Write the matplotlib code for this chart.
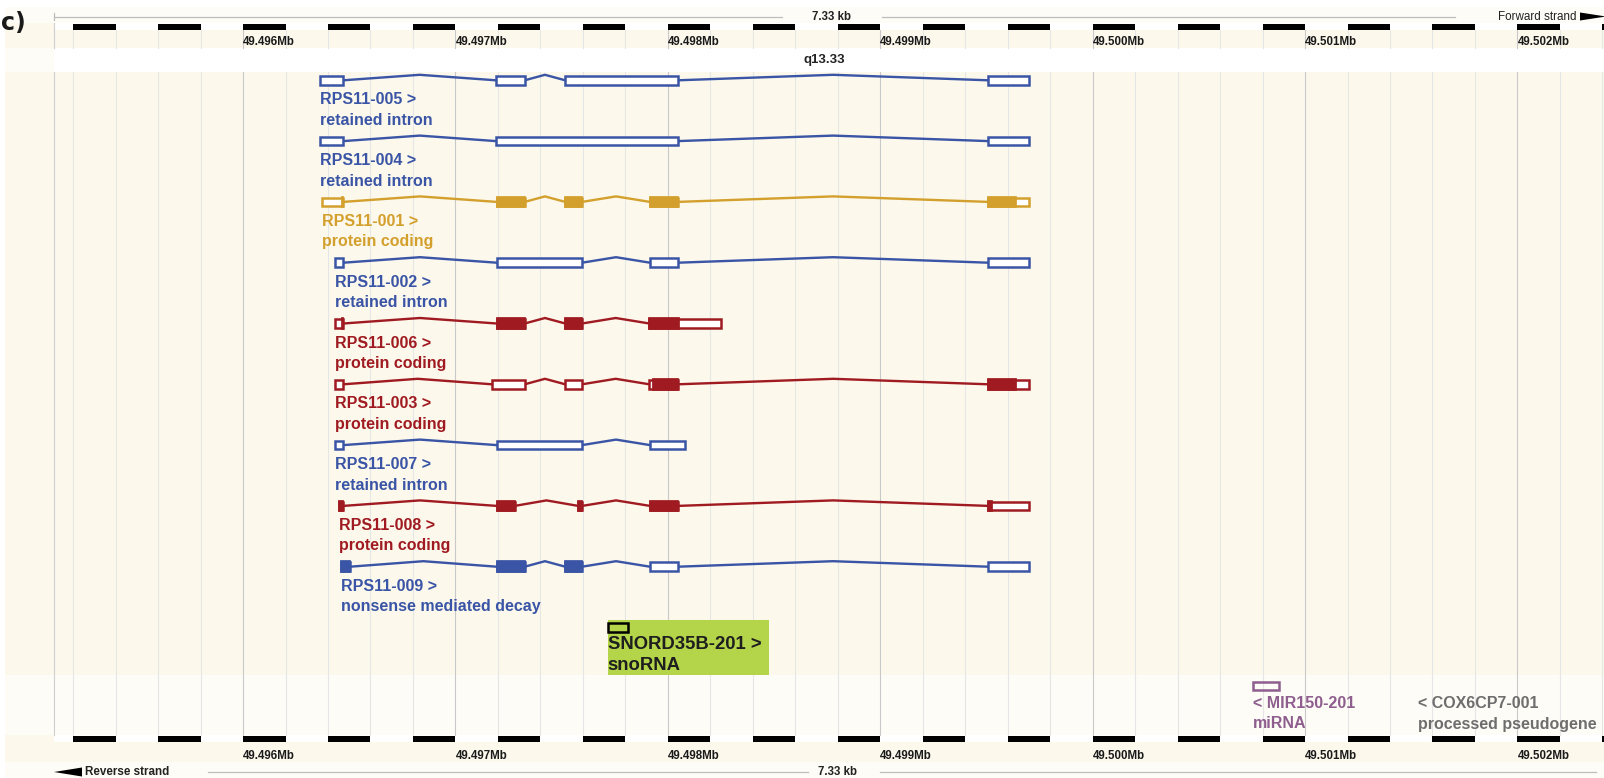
import matplotlib
matplotlib.use("Agg")
import matplotlib.pyplot as plt
from matplotlib.patches import Rectangle, Polygon
import numpy as np

# ---- data (genomic positions in bp, chr11) ----
view_start = 49495110
mb_ticks = [49496000, 49497000, 49498000, 49499000, 49500000, 49501000, 49502000]
mb_labels = ["49.496Mb", "49.497Mb", "49.498Mb", "49.499Mb", "49.500Mb", "49.501Mb", "49.502Mb"]
band_name = "q13.33"
span_text = "7.33 kb"

names = ["RPS11-005", "RPS11-004", "RPS11-001", "RPS11-002", "RPS11-006",
         "RPS11-003", "RPS11-007", "RPS11-008", "RPS11-009"]
biotypes = ["retained intron", "retained intron", "protein coding", "retained intron",
            "protein coding", "protein coding", "retained intron", "protein coding",
            "nonsense mediated decay"]
kinds = ["ri", "ri", "merged", "ri", "pc", "pc", "ri", "pc", "ri"]
exons = [
    [(49496363, 49496472), (49497191, 49497326), (49497517, 49498047), (49499509, 49499699)],
    [(49496363, 49496472), (49497191, 49498047), (49499509, 49499699)],
    [(49496372, 49496472), (49497194, 49497326), (49497517, 49497596), (49497916, 49498047), (49499509, 49499699)],
    [(49496432, 49496472), (49497194, 49497596), (49497916, 49498047), (49499509, 49499699)],
    [(49496432, 49496472), (49497194, 49497326), (49497517, 49497596), (49497913, 49498249)],
    [(49496432, 49496472), (49497172, 49497326), (49497517, 49497596), (49497913, 49498047), (49499509, 49499699)],
    [(49496432, 49496472), (49497194, 49497596), (49497916, 49498081)],
    [(49496453, 49496472), (49497194, 49497279), (49497578, 49497596), (49497916, 49498047), (49499509, 49499699)],
    [(49496463, 49496504), (49497194, 49497326), (49497517, 49497596), (49497916, 49498047), (49499509, 49499699)],
]
cds = [
    [],
    [],
    [(49496466, 49496472), (49497194, 49497326), (49497517, 49497596), (49497916, 49498047), (49499509, 49499639)],
    [],
    [(49496466, 49496472), (49497194, 49497326), (49497517, 49497596), (49497913, 49498051)],
    [(49497932, 49498047), (49499509, 49499639)],
    [],
    [(49496453, 49496472), (49497194, 49497279), (49497578, 49497596), (49497916, 49498047), (49499509, 49499528)],
    [(49496463, 49496504), (49497194, 49497326), (49497517, 49497596)],
]

sno_name, sno_type, sno_exon = "SNORD35B-201", "snoRNA", (49497717, 49497811)
mir_name, mir_type, mir_exon = "MIR150-201", "miRNA", (49500754, 49500876)
cox_name, cox_type, cox_start = "COX6CP7-001", "processed pseudogene", 49501532

kind_colors = {"ri": "#3A55A5", "merged": "#D4A02D", "pc": "#A01B21"}
MIR_COLOR = "#8E5E8E"
PSEUDO_COLOR = "#6E6E6E"
SNO_BG = "#B4D449"
CREAM = "#FCF8EC"
LIGHT = "#FEFCF6"

# ---- layout ----
W, H = 1604, 778
PX_PER_BP = 0.2124
LEFT_PX = 54
view_left = view_start - LEFT_PX / PX_PER_BP
view_right = view_start + (W - LEFT_PX) / PX_PER_BP

plt.rcParams["font.family"] = ["Liberation Sans", "DejaVu Sans"]
fig = plt.figure(figsize=(W / 100, H / 100), dpi=100)

# background / decoration axes in pixel units
bg = fig.add_axes([0, 0, 1, 1])
bg.set_xlim(0, W)
bg.set_ylim(H, 0)
bg.axis("off")

for y0, y1, col, x0 in [(7, 23, LIGHT, 5), (23, 48, CREAM, 5), (48, 72, LIGHT, 5),
                        (72, 675, CREAM, 5), (675, 735, LIGHT, 5), (735, 762, CREAM, 5),
                        (762, 778, LIGHT, 5), (23, 30, "white", LEFT_PX),
                        (48, 72, "white", LEFT_PX), (735, 741.5, "white", LEFT_PX)]:
    bg.add_patch(Rectangle((x0, y0), W - x0, y1 - y0, facecolor=col, edgecolor="none"))

# top scale line
bg.plot([LEFT_PX, 782], [16.5, 16.5], color="#BDBDBD", lw=0.9)
bg.plot([882, 1455], [16.5, 16.5], color="#BDBDBD", lw=0.9)
bg.plot([LEFT_PX, LEFT_PX], [13, 20], color="#BDBDBD", lw=0.9)
bg.text(832, 16.5, span_text, ha="center", va="center", fontsize=8.3, fontweight="bold", color="#222222")
bg.text(1577, 16.5, "Forward strand", ha="right", va="center", fontsize=8.4, color="#222222")
bg.add_patch(Polygon([(1580, 12.5), (1580, 20.5), (1606, 16.5)], closed=True, facecolor="black", edgecolor="none"))

# bottom scale line
bg.plot([208, 808], [772, 772], color="#BDBDBD", lw=0.9)
bg.plot([880, 1596], [772, 772], color="#BDBDBD", lw=0.9)
bg.text(838, 772, span_text, ha="center", va="center", fontsize=8.3, fontweight="bold", color="#222222")
bg.add_patch(Polygon([(54, 772), (82, 767.5), (82, 776.5)], closed=True, facecolor="black", edgecolor="none"))
bg.text(85, 772, "Reverse strand", ha="left", va="center", fontsize=8.4, fontweight="bold", color="#222222")

bg.text(824, 60, band_name, ha="center", va="center", fontsize=9.5, fontweight="bold", color="#222222")
bg.text(0.5, 23, "c)", ha="left", va="center", fontsize=17, fontweight="bold",
        family="DejaVu Sans", color="#1A1A1A")

# genomic axes: x in bp, y in pixels
ax = fig.add_axes([0, 0, 1, 1])
ax.set_xlim(view_left, view_right)
ax.set_ylim(H, 0)
ax.patch.set_alpha(0)
ax.axis("off")

# grid lines every 200 bp
grid = np.arange(49495200, view_right, 200)
for g in grid:
    col = "#C9C9C9" if g % 1000 == 0 else "#E6E6E6"
    ax.plot([g, g], [30, 48], color=col, lw=0.8, zorder=1)
    ax.plot([g, g], [72, 735], color=col, lw=0.8, zorder=1)
for ys in [(23, 48), (72, 735)]:
    ax.plot([view_start, view_start], ys, color="#CFCFCF", lw=0.8, zorder=1)

# alternating scale bars
for b in np.arange(49495200, view_right, 400):
    ax.add_patch(Rectangle((b, 23.5), 200, 6, facecolor="black", edgecolor="none", zorder=2))
    ax.add_patch(Rectangle((b, 735.5), 200, 6, facecolor="black", edgecolor="none", zorder=2))

for t, lab in zip(mb_ticks, mb_labels):
    ax.text(t, 42, lab, ha="left", va="center", fontsize=8.3, fontweight="bold", color="#1A1A1A")
    ax.text(t, 756, lab, ha="left", va="center", fontsize=8.3, fontweight="bold", color="#1A1A1A")

ROW0, ROW_STEP = 80.3, 60.8
LW = 1.8


def draw_transcript(y, ex, coding, color):
    for (s0, e0), (s1, e1) in zip(ex[:-1], ex[1:]):
        mid = (e0 + s1) / 2
        ax.plot([e0, mid, s1], [y, y - 5.5, y], color=color, lw=LW * 0.95, zorder=3,
                solid_joinstyle="miter")
    for s, e in ex:
        ax.add_patch(Rectangle((s, y - 4.3), e - s, 8.6, facecolor="white", edgecolor=color,
                               lw=LW, zorder=4))
    for s, e in coding:
        ax.add_patch(Rectangle((s, y - 5.3), e - s, 10.6, facecolor=color, edgecolor=color,
                               lw=LW * 0.7, zorder=5))


for i in range(len(names)):
    y = ROW0 + i * ROW_STEP
    col = kind_colors[kinds[i]]
    draw_transcript(y, exons[i], cds[i], col)
    x0 = exons[i][0][0]
    ax.text(x0, y + 19.5, names[i] + " >", ha="left", va="center", fontsize=11.5,
            fontweight="bold", color=col, zorder=6)
    ax.text(x0, y + 40, biotypes[i], ha="left", va="center", fontsize=11.5,
            fontweight="bold", color=col, zorder=6)

# snoRNA with highlight
ys = ROW0 + len(names) * ROW_STEP
ax.add_patch(Rectangle((sno_exon[0], ys - 7), 161 / PX_PER_BP, 55, facecolor=SNO_BG,
                       edgecolor="none", zorder=2))
ax.add_patch(Rectangle((sno_exon[0], ys - 4.3), sno_exon[1] - sno_exon[0], 8.6,
                       facecolor="none", edgecolor="black", lw=LW, zorder=4))
ax.text(sno_exon[0], ys + 17.5, sno_name + " >", ha="left", va="center", fontsize=13.3,
        fontweight="bold", color="#1E1E1E", zorder=6)
ax.text(sno_exon[0], ys + 38.5, sno_type, ha="left", va="center", fontsize=13.3,
        fontweight="bold", color="#1E1E1E", zorder=6)

# reverse strand features
yr = 686
ax.add_patch(Rectangle((mir_exon[0], yr - 4.3), mir_exon[1] - mir_exon[0], 8.6,
                       facecolor="none", edgecolor=MIR_COLOR, lw=LW, zorder=4))
ax.text(mir_exon[0], yr + 17.5, "< " + mir_name, ha="left", va="center", fontsize=11.5,
        fontweight="bold", color=MIR_COLOR, zorder=6)
ax.text(mir_exon[0], yr + 38, mir_type, ha="left", va="center", fontsize=11.5,
        fontweight="bold", color=MIR_COLOR, zorder=6)
ax.text(cox_start, yr + 17.5, "< " + cox_name, ha="left", va="center", fontsize=11.5,
        fontweight="bold", color=PSEUDO_COLOR, zorder=6)
ax.text(cox_start, yr + 38, cox_type, ha="left", va="center", fontsize=11.5,
        fontweight="bold", color=PSEUDO_COLOR, zorder=6)

fig.savefig("out.png", dpi=100)
